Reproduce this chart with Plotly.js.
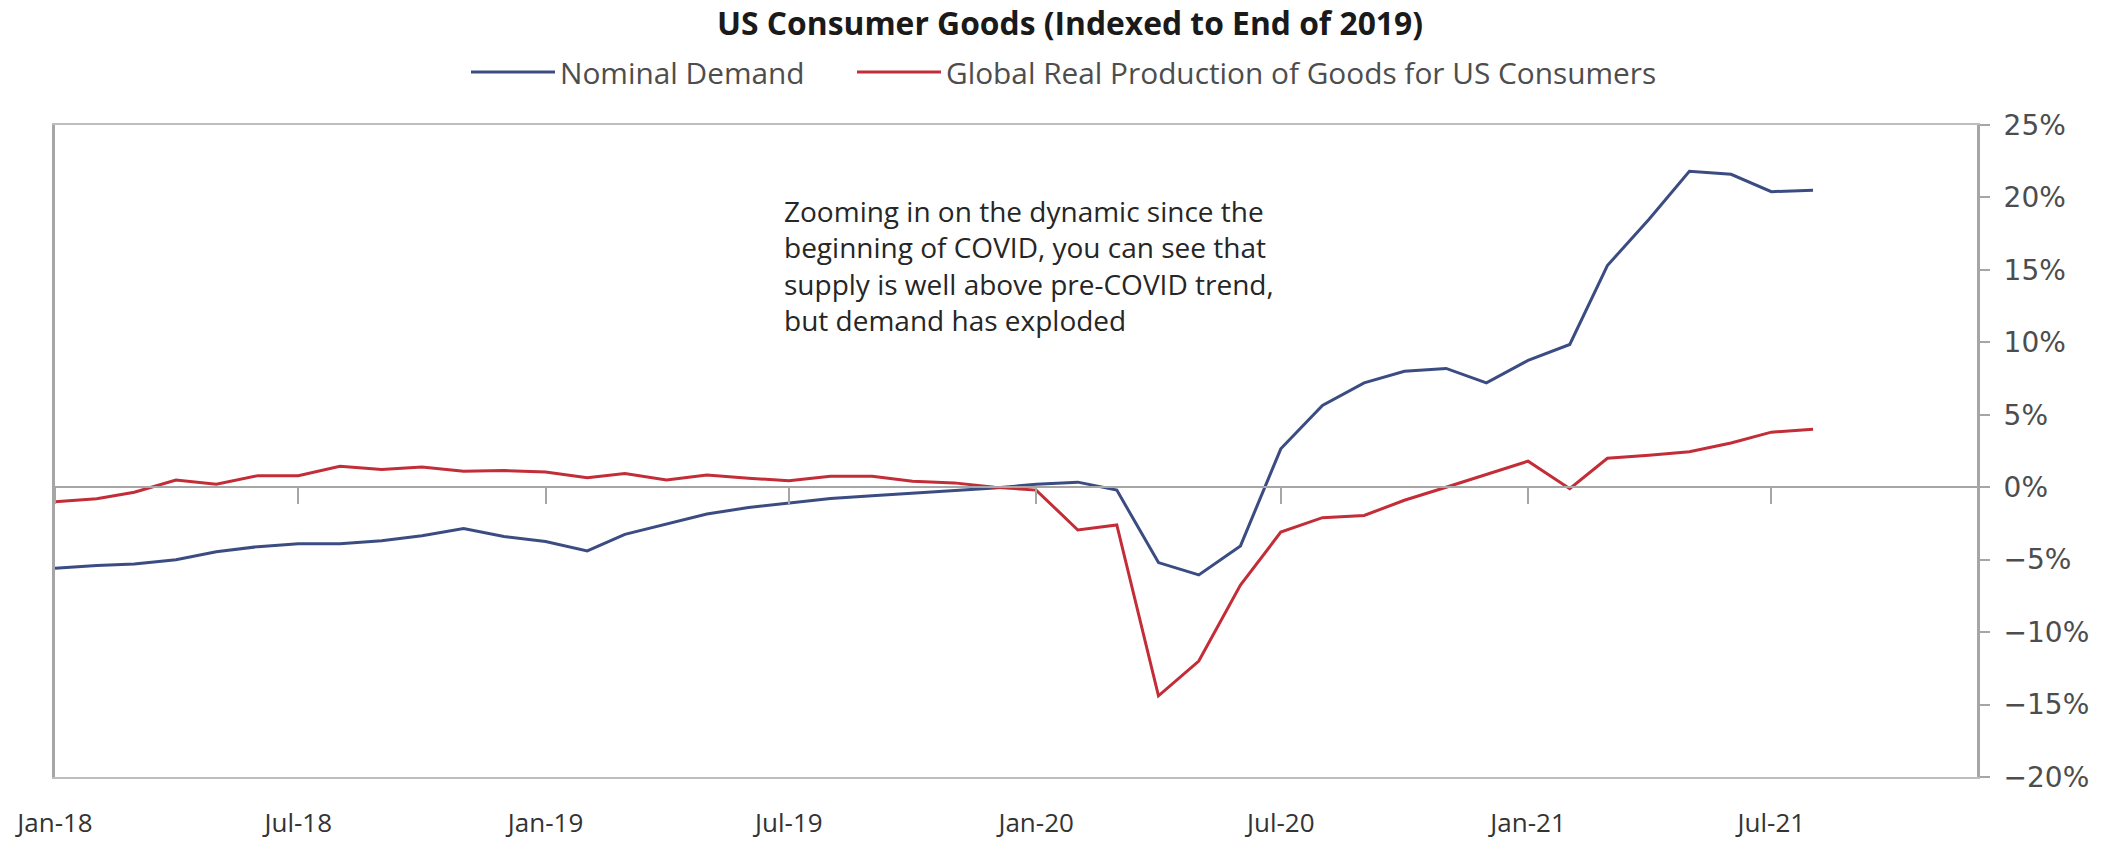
<!DOCTYPE html>
<html>
<head>
<meta charset="utf-8">
<script src="https://cdn.plot.ly/plotly-3.0.1.min.js"></script>
<style>
  html, body { margin: 0; padding: 0; background: #ffffff; }
  #chart { width: 2102px; height: 846px; }
</style>
</head>
<body>
<div id="chart"></div>
<script>
// Months Jan-2018 .. Aug-2021
const months = [
  "2018-01-01","2018-02-01","2018-03-01","2018-04-01","2018-05-01","2018-06-01",
  "2018-07-01","2018-08-01","2018-09-01","2018-10-01","2018-11-01","2018-12-01",
  "2019-01-01","2019-02-01","2019-03-01","2019-04-01","2019-05-01","2019-06-01",
  "2019-07-01","2019-08-01","2019-09-01","2019-10-01","2019-11-01","2019-12-01",
  "2020-01-01","2020-02-01","2020-03-01","2020-04-01","2020-05-01","2020-06-01",
  "2020-07-01","2020-08-01","2020-09-01","2020-10-01","2020-11-01","2020-12-01",
  "2021-01-01","2021-02-01","2021-03-01","2021-04-01","2021-05-01","2021-06-01",
  "2021-07-01","2021-08-01"
];

// Nominal Demand (% vs end of 2019)
const nominalDemand = [
  -5.6, -5.4, -5.3, -5.0, -4.45, -4.1,
  -3.9, -3.9, -3.7, -3.35, -2.85, -3.4,
  -3.75, -4.4, -3.25, -2.55, -1.85, -1.4,
  -1.1, -0.78, -0.58, -0.4, -0.23, -0.05,
  0.2, 0.35, -0.2, -5.2, -6.05, -4.05,
  2.65, 5.65, 7.2, 8.0, 8.2, 7.2,
  8.75, 9.85, 15.3, 18.5, 21.8, 21.6,
  20.4, 20.5
];

// Global Real Production of Goods for US Consumers (% vs end of 2019)
const realProduction = [
  -1.0, -0.8, -0.35, 0.5, 0.2, 0.8,
  0.8, 1.45, 1.22, 1.4, 1.1, 1.15,
  1.05, 0.65, 0.95, 0.5, 0.85, 0.62,
  0.45, 0.75, 0.75, 0.42, 0.3, 0.0,
  -0.2, -2.95, -2.6, -14.4, -12.0, -6.75,
  -3.1, -2.1, -1.95, -0.9, 0.0, 0.9,
  1.8, -0.1, 2.0, 2.2, 2.45, 3.05,
  3.8, 4.0
];

const seriesNames = ["Nominal Demand", "Global Real Production of Goods for US Consumers"];
const chartTitle = "US Consumer Goods (Indexed to End of 2019)";
const noteText = "Zooming in on the dynamic since the<br>beginning of COVID, you can see that<br>supply is well above pre-COVID trend,<br>but demand has exploded";

const FONT = "'Open Sans', Lato, 'Liberation Sans', sans-serif";
const TICKFONT = "'DejaVu Sans', 'Open Sans', sans-serif";
const GRAY = "#a6a6a6";
const LIGHTGRAY = "#bdbdbd";
const xRange = ["2018-01-01", "2021-12-01"];

const traces = [
  {
    x: months, y: nominalDemand, name: seriesNames[0],
    type: "scatter", mode: "lines",
    line: { color: "#3b4c82", width: 3 },
    xaxis: "x", yaxis: "y", legend: "legend"
  },
  {
    x: months, y: realProduction, name: seriesNames[1],
    type: "scatter", mode: "lines",
    line: { color: "#c22d37", width: 3 },
    xaxis: "x2", yaxis: "y", legend: "legend2"
  }
];

const legendCommon = {
  orientation: "h",
  xanchor: "left",
  y: 1.081, yanchor: "middle",
  font: { family: FONT, size: 29.8, color: "#4d4d4d" },
  itemwidth: 84,
  bgcolor: "rgba(0,0,0,0)"
};

const layout = {
  width: 2102, height: 846,
  paper_bgcolor: "#ffffff", plot_bgcolor: "#ffffff",
  margin: { l: 55, r: 125, t: 125, b: 69 },
  font: { family: FONT, color: "#333333", size: 26 },
  title: {
    text: "<b>" + chartTitle + "</b>",
    font: { family: FONT, size: 31.8, color: "#1a1a1a" },
    x: 1070 / 2102, xanchor: "center",
    y: 1 - 24 / 846, yanchor: "middle", yref: "container"
  },
  showlegend: true,
  legend: Object.assign({}, legendCommon, { x: (466 - 55) / 1922 }),
  legend2: Object.assign({}, legendCommon, { x: (852 - 55) / 1922 }),
  xaxis: {
    type: "date",
    range: xRange,
    tick0: "2018-01-01", dtick: "M6",
    tickformat: "%b-%y",
    showgrid: false, zeroline: false,
    showline: true, mirror: true, linecolor: LIGHTGRAY, linewidth: 2,
    ticks: "outside", ticklen: 22, tickcolor: "rgba(0,0,0,0)",
    tickfont: { family: FONT, size: 26, color: "#333333" }
  },
  xaxis2: {
    type: "date",
    matches: "x",
    overlaying: "x",
    anchor: "free",
    position: 20 / 45,
    side: "bottom",
    tick0: "2018-01-01", dtick: "M6",
    showticklabels: false,
    showgrid: false, zeroline: false,
    showline: true, linecolor: GRAY, linewidth: 2,
    ticks: "outside", ticklen: 16, tickwidth: 2, tickcolor: GRAY
  },
  yaxis: {
    side: "right",
    range: [-20, 25],
    dtick: 5,
    ticksuffix: "%",
    showgrid: false, zeroline: false,
    showline: true, mirror: true, linecolor: GRAY, linewidth: 3,
    ticks: "outside", ticklen: 10, tickwidth: 2, tickcolor: GRAY,
    ticklabelstandoff: 8,
    tickfont: { family: TICKFONT, size: 28, color: "#4d4d4d" }
  },
  annotations: [
    {
      text: noteText,
      xref: "paper", yref: "paper",
      x: (782 - 55) / 1922, xanchor: "left",
      y: (777 - 190) / 652, yanchor: "top",
      align: "left", showarrow: false,
      font: { family: FONT, size: 28, color: "#262626" }
    }
  ]
};

Plotly.newPlot("chart", traces, layout, { displayModeBar: false, staticPlot: true });
</script>
</body>
</html>
